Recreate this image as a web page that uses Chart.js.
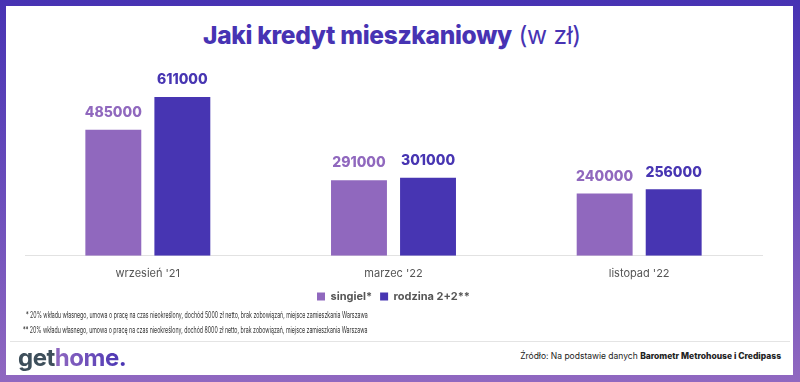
<!DOCTYPE html>
<html>
<head>
<meta charset="utf-8">
<script src="https://cdn.jsdelivr.net/npm/chart.js@4"></script>
<style>
  html, body { margin: 0; padding: 0; }
  body { width: 800px; height: 382px; overflow: hidden; font-family: "Inter", "Open Sans", sans-serif; }
  .frame { position: absolute; left: 0; top: 0; width: 800px; height: 382px;
           background: linear-gradient(to bottom, #4733b3 0%, #6a4dbb 50%, #9068c0 100%); }
  .inner { position: absolute; left: 6px; top: 6px; right: 7px; bottom: 7px; background: #fff; }
  .title { position: absolute; left: -8px; width: 800px; top: 20px; text-align: center;
           font-size: 24.5px; color: #4733b3; letter-spacing: -0.3px; }
  .title b { font-weight: 800; }
  .title span { font-weight: 400; }
  .chartbox { position: absolute; left: 0; top: 60px; width: 800px; height: 252px; }
  .note { position: absolute; font-size: 8.5px; color: #333; white-space: nowrap;
          transform: scaleX(0.62); transform-origin: left center; }
  .sep { position: absolute; left: 10px; right: 10px; top: 341px; height: 1px; background: #e4e4e4; }
  .logo { position: absolute; left: 18px; top: 343px; font-size: 24px; font-weight: 700; letter-spacing: -0.5px; }
  .logo .g { color: #3e4f5b; }
  .logo .h { background: linear-gradient(to right, #9068c0, #4733b3); -webkit-background-clip: text; color: transparent; }
  .src { position: absolute; right: 19px; top: 351px; font-size: 8.5px; color: #222; white-space: nowrap; }
  .src b { font-weight: 800; }
</style>
</head>
<body>
<div class="frame"></div>
<div class="inner"></div>
<div class="title"><b>Jaki kredyt mieszkaniowy</b> <span>(w zł)</span></div>
<div class="chartbox"><canvas id="barChart"></canvas></div>
<div class="note" style="left:26px; top:310px;">* 20% wkładu własnego, umowa o pracę na czas nieokreślony, dochód 5000 zł netto, brak zobowiązań, miejsce zamieszkania Warszawa</div>
<div class="note" style="left:23px; top:325px;">** 20% wkładu własnego, umowa o pracę na czas nieokreślony, dochód 8000 zł netto, brak zobowiązań, miejsce zamieszkania Warszawa</div>
<div class="sep"></div>
<div class="logo"><span class="g">get</span><span class="h">home.</span></div>
<div class="src">Źródło: Na podstawie danych <b>Barometr Metrohouse i Credipass</b></div>

<script>
const periods = ['wrzesień \'21', 'marzec \'22', 'listopad \'22'];
const singielData = [485000, 291000, 240000];
const rodzinaData = [611000, 301000, 256000];

// value labels above bars
const valueLabels = {
    id: 'valueLabels',
    afterDatasetsDraw(chart) {
        const ctx = chart.ctx;
        ctx.save();
        ctx.textAlign = 'center';
        ctx.textBaseline = 'middle';
        ctx.font = '800 14px Inter, sans-serif';
        chart.data.datasets.forEach(function (ds, i) {
            chart.getDatasetMeta(i).data.forEach(function (bar, j) {
                ctx.fillStyle = ds.backgroundColor;
                ctx.fillText(String(ds.data[j]), bar.x, bar.y - 17);
            });
        });
        ctx.restore();
    }
};

document.addEventListener("DOMContentLoaded", function () {
    const barEl = document.getElementById('barChart');
    new Chart(barEl, {
        type: 'bar',
        data: {
            labels: periods,
            datasets: [
                {
                    label: 'singiel*',
                    data: singielData,
                    backgroundColor: '#9068be',
                    barPercentage: 0.81,
                    categoryPercentage: 0.562
                },
                {
                    label: 'rodzina 2+2**',
                    data: rodzinaData,
                    backgroundColor: '#4735b2',
                    barPercentage: 0.81,
                    categoryPercentage: 0.562
                }
            ]
        },
        options: {
            responsive: true,
            maintainAspectRatio: false,
            animation: false,
            layout: { padding: { left: 25, right: 38, top: 14, bottom: 0 } },
            plugins: {
                legend: {
                    position: 'bottom',
                    labels: {
                        boxWidth: 8,
                        boxHeight: 8,
                        padding: 8,
                        color: '#555',
                        font: { family: 'Inter', size: 11, weight: '700' }
                    }
                },
                tooltip: { enabled: false }
            },
            scales: {
                x: {
                    grid: { display: false },
                    border: { color: '#e2e2e2' },
                    ticks: { color: '#555', padding: 3, font: { family: 'Inter', size: 11 } }
                },
                y: {
                    display: false,
                    min: 0,
                    max: 700000
                }
            }
        },
        plugins: [valueLabels]
    });
});
</script>
</body>
</html>
